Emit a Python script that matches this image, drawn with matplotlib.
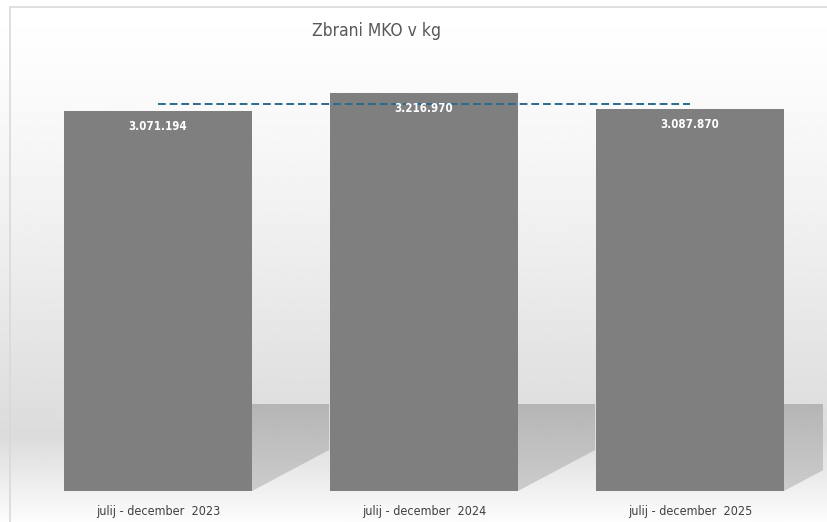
import numpy as np
import matplotlib.pyplot as plt
from matplotlib.patches import Rectangle, Polygon

periods = ['julij - december  2023', 'julij - december  2024', 'julij - december  2025']
values = [3071194, 3216970, 3087870]
labels = ['3.071.194', '3.216.970', '3.087.870']

FONT = ['DejaVu Sans']
W, H = 827, 522

fig = plt.figure(figsize=(W / 100, H / 100), dpi=100)

# background: light gradient with a darker band above the floor
bg = fig.add_axes([0, 0, 1, 1], zorder=0)
rows = np.linspace(0, 1, 400)  # 0 = top, 1 = bottom
floor = (491 - 405) / H
shade = np.where(rows < 1 - floor,
                 1.0 - 0.14 * (rows / (1 - floor)) ** 1.3,
                 0.86 + 0.13 * ((rows - (1 - floor)) / floor))
grad = np.repeat(shade[:, None], 2, axis=1)
bg.imshow(grad, cmap='gray', vmin=0, vmax=1, aspect='auto', extent=[0, 1, 0, 1])
bg.add_patch(Rectangle((10 / W, -0.01), 1, (H - 7) / H + 0.01, fill=False,
                       edgecolor='#d9d9d9', linewidth=1.2))
bg.set_xlim(0, 1)
bg.set_ylim(0, 1)
bg.axis('off')

ax = fig.add_axes([25 / W, (H - 491) / H, 798 / W, 433 / H], zorder=1)
ax.patch.set_alpha(0)
x = np.arange(len(values))
bw = 188 / 266
bars = ax.bar(x, values, width=bw, color='#7f7f7f', zorder=3)

# floor shadows to the right of each bar, fading downwards
sh_top = 700000
sh_grad = np.linspace(0.71, 0.80, 50)[:, None]
for xi in x:
    r = xi + bw / 2
    poly = Polygon([(r, 0), (r, sh_top), (r + 0.29, sh_top), (r + 0.29, 330000)],
                   closed=True, facecolor='none', edgecolor='none', zorder=2)
    ax.add_patch(poly)
    im = ax.imshow(np.repeat(sh_grad, 2, axis=1), cmap='gray', vmin=0, vmax=1,
                   aspect='auto', extent=[r, r + 0.29, 0, sh_top], zorder=2)
    im.set_clip_path(poly)

for xi, v, lab in zip(x, values, labels):
    ax.annotate(lab, (xi, v), xytext=(0, -11), textcoords='offset points',
                ha='center', va='center', color='white', fontsize=8.3,
                fontweight='bold', fontstretch='condensed', family=FONT, zorder=5)

avg = np.mean(values)
ax.plot([x[0], x[-1]], [avg, avg], linestyle=(0, (4, 2)), color='#2a6a8f',
        linewidth=1.4, zorder=4)

ax.set_xlim(-0.5, 2.5)
ax.set_ylim(0, 3.5e6)
ax.set_xticks(x)
ax.set_xticklabels(periods, family=FONT, fontstretch='condensed', fontsize=9,
                   color='#404040')
ax.tick_params(axis='x', length=0, pad=10)
ax.set_yticks([])
for s in ax.spines.values():
    s.set_visible(False)

fig.text(377 / W, 1 - 31 / H, 'Zbrani MKO v kg', ha='center', va='center',
         fontsize=12.5, fontstretch='condensed', color='#595959', family=FONT)

fig.savefig('out.png', dpi=100)
